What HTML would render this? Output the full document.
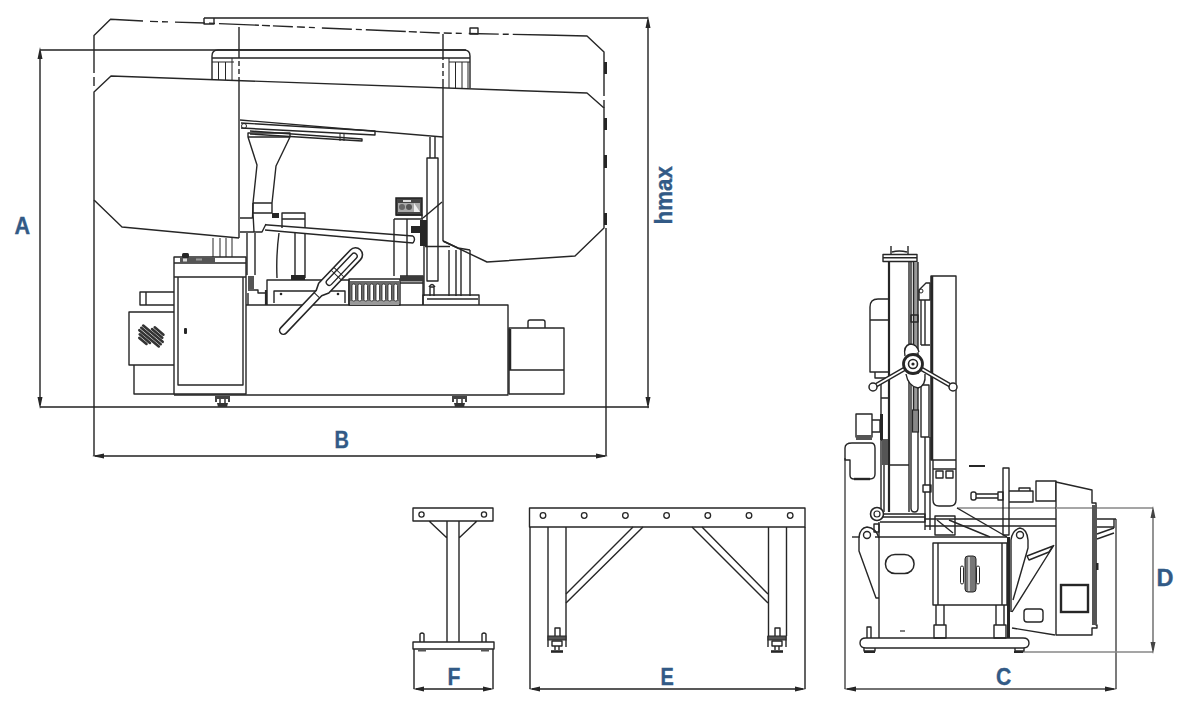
<!DOCTYPE html>
<html><head><meta charset="utf-8">
<style>
html,body{margin:0;padding:0;background:#fff;width:1200px;height:707px;overflow:hidden}
svg{display:block}
.l{fill:none;stroke:#262626;stroke-width:1.4;stroke-linejoin:round}
.t{fill:none;stroke:#262626;stroke-width:1}
.d{fill:none;stroke:#222;stroke-width:1.4}
.k{fill:#262626;stroke:none}
.g{fill:#555;stroke:none}
.lab{font-family:"Liberation Sans",sans-serif;font-weight:bold;fill:#325a86;stroke:#325a86;stroke-width:0.35}
</style></head><body>
<svg width="1200" height="707" viewBox="0 0 1200 707">
<g id="dims">
  <!-- A -->
  <path class="d" d="M40,52V405 M40,50H466 M40,407H649"/>
  <path class="k" d="M40,47 l-2.5,12 h5z M40,409 l-2.5,-12 h5z"/>
  <!-- hmax -->
  <path class="d" d="M648,20V405 M204,18H648"/>
  <path class="k" d="M648,16 l-2.5,12 h5z M648,409 l-2.5,-12 h5z"/>
  <!-- B -->
  <path class="d" d="M94,200V456 M606,228V456 M95,456H605"/>
  <path class="k" d="M92,456 l12,-2.5 v5z M608,456 l-12,-2.5 v5z"/>
</g>
<g id="labels" style="font-size:23.5px">
  <text class="lab" transform="translate(14.5,234) scale(0.92,1)">A</text>
  <text class="lab" transform="translate(334.5,447.5) scale(0.85,1)">B</text>
  <text class="lab" transform="translate(672,224.5) rotate(-90) scale(0.95,1.05)">hmax</text>
  <text class="lab" transform="translate(447.5,685) scale(0.9,1)">F</text>
  <text class="lab" transform="translate(660.5,685) scale(0.85,1)">E</text>
  <text class="lab" transform="translate(996,684.5) scale(0.9,1)">C</text>
  <text class="lab" transform="translate(1156.5,585.5) scale(1,1)">D</text>
</g>
<g id="front">
  <!-- upper guard dashed -->
  <path class="l" d="M94,73V35.5L110.5,19.3L143,21 M94,77V86"/>
  <path class="l" d="M150,21.4L205,23L300,27L440,33L545,35" stroke-dasharray="8 4 6 7 30 4 6 4 40 3 8 3 20 4"/>
  <path class="l" d="M545,35L587,36L604,52V96 M604,100V108"/>
  <path class="l" d="M204,18V24H214V18 M470,28H478V34H470Z"/>
  <g class="k"><rect x="604" y="62" width="3" height="12"/><rect x="604" y="118" width="3" height="12"/><rect x="604" y="155" width="3" height="13"/><rect x="604" y="213" width="3" height="12"/></g>
  <!-- lower guard -->
  <path class="l" d="M94,200V92L111,76L587,93L604,108V228L575,256L487,262L443,241 M94,200L122,227L239,238"/>
  <path class="l" d="M239,27V58 M239,61V66 M239,69V74 M239,77V238 M443,34V60 M443,63V68 M443,71V76 M443,79V241"/>
  <!-- columns -->
  <path class="l" d="M212,80V56Q212,50 218,50H464Q470,50 470,56V88 M212,58H470"/>
  <path class="t" d="M212,62H234 M218.5,62V80 M225.5,62V80 M232,58V80 M449,62H470 M449,58V88 M455.5,62V88 M462,62V88 M468,62V88"/>
  <!-- inner guard bottom -->
  <path class="l" d="M240,120L443,137"/>
  <!-- rail bar under top -->
  <path class="l" d="M241,123L375,131V135L241,128 M250,131L362,139V141L250,134"/>
  <circle class="t" cx="244" cy="126" r="2.5"/>
  <path class="t" d="M340,133V141 M344,133V141"/>
  <!-- funnel blade guide -->
  <path class="l" d="M248,133H290V137H248Z M248,137L257,165L253,203H272L276,166L290,137 M253,203V213H272V203"/>
  <path class="l" d="M240,218H252.5 M253,203L252.5,218 M253,213L254,232"/>
  <rect class="k" x="272" y="213" width="7" height="5"/>
  <!-- vise post -->
  <path class="l" d="M282,228V213H305V228 M282,219H305 M295,232V278 M305,233V278"/>
  <rect class="k" x="291" y="275" width="14" height="5"/>
  <path class="l" d="M279,233Q276,255 277,278"/>
  <!-- long blade bar -->
  <path class="l" d="M265,224.8L413,236 M265,230L413,243 M413,236Q416,239 413,243"/>
  <path class="l" d="M240,232H262L266,224"/>
  <!-- column under arm -->
  <path class="l" d="M247,233V275 M255,233V275"/><rect class="g" x="248" y="276" width="6" height="13"/><path class="l" d="M248,290H258V293H266 M248,305V293"/>
  <!-- columns under guard left -->
  <path class="t" d="M213,238V257 M220,238V257 M226,238V257 M232,238V257"/>
  <!-- gearbox -->
  <rect x="396" y="198" width="26" height="17" fill="#444" stroke="#222" stroke-width="1.5"/>
  <rect x="398" y="203" width="22" height="9" fill="#aaa"/>
  <circle cx="402" cy="207" r="3" fill="#666"/><circle cx="409" cy="207" r="3" fill="#555"/>
  <path d="M414,203L420,212H414Z" fill="#eee"/>
  <rect x="403" y="200" width="8" height="2" fill="#ddd"/>
  <path class="l" d="M396,215H422V219 M394,219H423 M394,219V276 M407,219V276"/>
  <path class="l" d="M423,218L442,202"/>
  <path class="k" d="M420,220H427V246H420Z M411,226H420V233H411Z"/><path class="l" d="M424,246V296 M425,246.5H450"/>
  <!-- cylinder -->
  <path class="l" d="M430,137V158 M435,137V158 M427,158H438V281H427Z"/>
  <path class="l" d="M430,296V287H434V296 M429,287Q432,282 435,287"/>
  <path class="l" d="M449,250V296 M456,250V296 M461,250V296 M470,250V296"/>
  <path class="l" d="M443,241L458,248L470,250"/>
  <!-- control cabinet -->
  <path class="l" d="M174,394V257H246V394Z M174,263H246 M174,277H246 M178,277V385H243V277"/>
  <rect class="g" x="180" y="257.5" width="35" height="5.5"/><rect x="183" y="258.5" width="4" height="3" fill="#ddd"/><rect x="196" y="258.5" width="6" height="2" fill="#999"/>
  <rect class="k" x="182" y="253" width="7" height="5" rx="1.5"/>
  <rect class="k" x="184" y="328" width="3" height="6" rx="1"/>
  <!-- left bar & electrical box -->
  <path class="l" d="M174,292H140V305H174 M146,292V305"/>
  <path class="l" d="M174,312H129V365H174 M134,365V394H174"/>
  <g transform="translate(151,336) rotate(40)" fill="#333"><rect x="-4.0" y="-10.3" width="14" height="2.6" rx="1.3"/><rect x="-5.0" y="-7.3" width="16" height="2.6" rx="1.3"/><rect x="-14.0" y="-4.3" width="28" height="2.6" rx="1.3"/><rect x="-14.0" y="-1.3" width="28" height="2.6" rx="1.3"/><rect x="-14.0" y="1.7" width="28" height="2.6" rx="1.3"/><rect x="-11.0" y="4.7" width="16" height="2.6" rx="1.3"/><rect x="-9.0" y="7.7" width="12" height="2.6" rx="1.3"/></g>
  <!-- base -->
  <path class="l" d="M246,305H508V395H174"/>
  <path fill="#444" d="M215,396H230V402H228V399H217V402H215Z"/><path class="l" d="M220,399V403 M225,399V403"/><path fill="#333" d="M217,403H228L227,407H218Z"/>
  <path fill="#444" d="M452,396H467V402H465V399H454V402H452Z"/><path class="l" d="M457,399V403 M462,399V403"/><path fill="#333" d="M454,403H465L464,407H455Z"/>
  <!-- vise base -->
  <path class="l" d="M267,305V280H349V305 M274,303V291H345V303"/><path stroke="#262626" stroke-width="2.2" d="M266,290V305"/>
  <circle class="k" cx="281" cy="294" r="1.3"/><circle class="k" cx="338" cy="294" r="1.3"/>
  <!-- grating -->
  <rect class="l" x="349" y="279" width="51" height="26"/>
  <rect x="350" y="281" width="49" height="20" fill="#6a6a6a"/><rect x="350" y="301" width="49" height="4" fill="#999"/>
  <g fill="#fff" stroke="#262626" stroke-width="0.8">
    <rect x="352" y="284" width="3.5" height="17" rx="1.5"/><rect x="358" y="284" width="3.5" height="17" rx="1.5"/>
    <rect x="364" y="284" width="3.5" height="17" rx="1.5"/><rect x="370" y="284" width="3.5" height="17" rx="1.5"/>
    <rect x="376" y="284" width="3.5" height="17" rx="1.5"/><rect x="382" y="284" width="3.5" height="17" rx="1.5"/>
    <rect x="388" y="284" width="3.5" height="17" rx="1.5"/><rect x="394" y="284" width="3.5" height="17" rx="1.5"/>
  </g>
  <path class="l" d="M400,276H423V305 M400,283H423"/>
  <rect x="400" y="276" width="23" height="5.5" fill="#3a3a3a"/>
  <path class="l" d="M423,305V295H479V305 M427,299H478"/>
  <!-- right box -->
  <path class="l" d="M509,394V328H564V394H509 M509,370H564 M528,328V322Q528,320 530,320H543Q545,320 545,322V328"/>
  <path stroke="#262626" stroke-width="2.5" d="M510,329V370"/>
  <!-- handle -->
  <g transform="translate(281,333) rotate(-46.4)">
    <path class="l" d="M3.5,-3.8H55L62,-7H108A7,7 0 0 1 108,7H62L55,3.8H3.5A3.8,3.8 0 0 1 3.5,-3.8Z" style="fill:#fff;stroke-width:1.6"/>
    <path class="l" d="M70,-3H106A3,3 0 0 1 106,3H70A3,3 0 0 1 70,-3Z"/>
    <path class="t" d="M80,-7V7 M84,-7V7 M52,-3.8V3.8"/>
  </g>
</g>

<g id="side">
  <!-- dims C, D -->
  <path class="d" style="stroke:#444" d="M845,458V689 M1116,519V689 M847,689H1114"/>
  <path class="k" d="M844,689 l12,-2.5 v5z M1117,689 l-12,-2.5 v5z"/>
  <path stroke="#888" stroke-width="1.3" fill="none" d="M957,508H1153 M1023,652H1153"/>
  <path class="d" style="stroke:#666" d="M1153,510V650"/>
  <path fill="#444" d="M1153,506 l-2.5,12 h5z M1153,654 l-2.5,-12 h5z"/>
  <!-- top cap and column -->
  <path class="l" d="M883,254.5H917V261.5H883Z M883,257.7H917 M891,246V254 M908,246V254 M892,252Q899,250 907,252"/>
  <path class="l" d="M889,262V512 M909,262V512 M889,465H909"/>
  <path stroke="#262626" stroke-width="2.2" d="M889,262V512"/>
  <!-- rod -->
  <rect x="913.5" y="262" width="4.5" height="170" fill="#999"/><path class="l" d="M911,262V508Q911,512 914.5,512Q918,512 918,508V262 M913.5,262V430"/>
  <rect class="l" x="911" y="315" width="7" height="7"/>
  <!-- wheel housing -->
  <path class="l" d="M931,276H956V460H931Z M933,460V500Q933,506 939,506H950Q956,506 956,500V460 M933,469H956 M936,471H943V478H936Z M946,471H953V478H946Z"/>
  <path stroke="#262626" stroke-width="2.5" d="M932,276V460"/>
  <path class="l" d="M919,290L926,283H930V300H919Z"/>
  <circle class="t" cx="921" cy="291" r="2"/>
  <path class="l" d="M921,300V345 M925,300V345 M921,345H930 M921,385H929V437H921Z M925,437V485 M930,437V530 M923,485H931V492H923Z M925,492V530"/>
  <rect x="912.5" y="410" width="6" height="22" fill="#888" stroke="#262626" stroke-width="1.2"/>
  <!-- motor -->
  <path class="l" d="M889,299H878Q870,299 870,307V372H889 M870,320H889 M875,372V378H889"/>
  <!-- handwheel -->
  <path d="M905,356Q903,346 910,344Q917,344 919,352 M906,374Q908,386 918,388Q926,386 925,374" fill="#fff" stroke="#262626" stroke-width="1.4"/>
  <path d="M913,364L873,387 M913,364L953,387" stroke="#262626" stroke-width="4.6" fill="none"/>
  <path d="M913,364L873,387 M913,364L953,387" stroke="#fff" stroke-width="1.8" fill="none"/>
  <circle cx="873" cy="387" r="4" fill="#fff" stroke="#262626" stroke-width="1.5"/>
  <circle cx="953" cy="387" r="4" fill="#fff" stroke="#262626" stroke-width="1.5"/>
  <circle cx="913" cy="364" r="9.5" fill="#fff" stroke="#262626" stroke-width="2.8"/>
  <circle cx="913" cy="364" r="4.5" fill="none" stroke="#262626" stroke-width="1.6"/>
  <circle cx="913" cy="364" r="1.6" fill="#262626"/>
  <!-- side post pieces -->
  <path class="l" d="M881,384V512 M884,440V512 M881,398H889 M881,440H889"/>
  <rect class="g" x="882" y="440" width="6" height="25"/>
  <!-- gear motor -->
  <path class="l" d="M856,414H872V437H856Z M872,420H880V432H872"/>
  <rect class="g" x="856" y="435" width="16" height="5"/>
  <rect class="k" x="880" y="414" width="3" height="26"/>
  <path class="l" d="M852,443H871Q875,443 875,448V474Q875,479 870,479H854Q850,479 850,475V460H845V448Q845,443 852,443Z"/>
  <path stroke="#262626" stroke-width="2.4" d="M854,479H870"/>
  <!-- pulley and bar -->
  <circle cx="877" cy="514" r="6.5" fill="#fff" stroke="#262626" stroke-width="1.6"/>
  <circle cx="877" cy="514" r="3" fill="none" stroke="#262626" stroke-width="1.2"/>
  <path class="l" d="M883,514H925V522H880 M883,517H925"/>
  <!-- vise post & spindle -->
  <path class="l" d="M1003,468H1009V535H1003Z"/>
  <path class="l" d="M976,494H998V498H976 M998,492H1003V500H998Z M1009,491H1033V502H1009 M1019,491V488H1030V491"/>
  <rect x="971" y="492" width="5" height="8" rx="2" fill="#fff" stroke="#262626" stroke-width="1.4"/>
  <path stroke="#262626" stroke-width="2" d="M969,466H985"/>
  <path class="l" d="M1036,481H1056V501H1036Z"/>
  <!-- rails -->
  <path class="l" d="M925,519H1097 M925,526H1097 M1097,519H1116 M1097,527H1114"/>
  <path class="l" d="M957,508L1007,537 M949,520L990,537"/>
  <path class="l" d="M935,516H955V535H935Z M937,520L953,533"/>
  <!-- body -->
  <path class="l" d="M875,537H1007 M879,522V638 M933,543H1007V605H933Z M938,543V605 M1002,543V605"/>
  <path stroke="#262626" stroke-width="3" d="M1008.5,537V638"/>
  <rect x="885.5" y="554.5" width="28.5" height="19" rx="9.5" ry="9" fill="none" stroke="#262626" stroke-width="1.5"/>
  <g fill="#fff" stroke="#262626" stroke-width="1">
    <rect x="960.5" y="566" width="3" height="18" rx="1.5"/>
    <rect x="976.5" y="566" width="3" height="18" rx="1.5"/>
  </g>
  <rect x="965" y="556" width="11" height="36" rx="3" fill="#777" stroke="#262626" stroke-width="1"/>
  <path stroke="#fff" stroke-width="1.2" d="M969,557V591"/>
  <!-- legs -->
  <path class="l" d="M936,605V625 M944,605V625 M934,625H946V638H934Z M996,605V625 M1004,605V625 M994,625H1006V638H994Z"/>
  <path stroke="#555" stroke-width="1.5" d="M900,631H905"/>
  <!-- left bracket -->
  <path class="l" d="M879,538Q876,528 867,527Q860,528 859,537V551L876,598H879"/>
  <path class="l" d="M874,524H879V532H874Z"/>
  <circle cx="867" cy="535" r="3.5" fill="#fff" stroke="#262626" stroke-width="1.4"/>
  <path stroke="#262626" stroke-width="1.4" d="M852,537H860"/>
  <!-- base plate -->
  <path class="l" d="M866,638H1023Q1029,638 1029,643Q1029,648 1023,648H866Q860,648 860,643Q860,638 866,638Z"/>
  <path class="l" d="M867,638V627H871V638 M864,648V651H875V648 M1015,648V651H1024V648"/>
  <path stroke="#262626" stroke-width="2" d="M864,652H875 M1014,652H1023"/>
  <!-- right bracket -->
  <path class="l" d="M1011,612V540Q1012,530 1020,528Q1027,529 1028,540V548L1013,600 M1054,545L1012,612"/>
  <circle cx="1020" cy="535" r="3.5" fill="#fff" stroke="#262626" stroke-width="1.4"/>
  <path class="l" d="M1027,556L1053,546L1049,552L1029,560Z"/>
  <path class="l" d="M1012,628L1055,635"/>
  <!-- pendant -->
  <path class="l" style="fill:#fff" d="M1056,482L1092,490V503H1096V625H1097V628H1092V635H1056Z"/>
  <rect x="1061" y="585" width="27" height="27" fill="none" stroke="#262626" stroke-width="2.4"/>
  <rect x="1024" y="609" width="19" height="13" rx="3" fill="none" stroke="#262626" stroke-width="1.4"/>
  <rect class="g" x="1092" y="505" width="5" height="120"/>
  <rect class="k" x="1096" y="563" width="2.5" height="7"/>
  <path class="l" d="M1097,534L1114,528 M1097,539L1114,533 M1114,519V528"/>
  <path stroke="#888" stroke-width="1.3" d="M1056,508H1092"/>
</g>

<g id="stands">
  <!-- F -->
  <path class="l" d="M413,508H493V521H413Z M447,521V642 M459,521V642 M429,521L447,538 M477,521L459,538"/>
  <g fill="none" stroke="#262626" stroke-width="1.3"><circle cx="421.5" cy="514.5" r="2.6"/><circle cx="484" cy="514.5" r="2.6"/></g>
  <path class="l" d="M413,642H494V649H413Z M420,642V634Q422,632 424,634V642 M482,642V634Q484,632 486,634V642"/>
  <path stroke="#555" stroke-width="2" d="M418,650.5H426 M481,650.5H489"/>
  <path class="d" d="M414,649V689 M493,649V689 M416,689H491"/>
  <path class="k" d="M413,689 l11,-2.5 v5z M494,689 l-11,-2.5 v5z"/>
  <!-- E -->
  <path class="l" d="M529.5,508H805V527H529.5Z M548,527V636 M566,527V636 M768.5,527V636 M786.5,527V636"/>
  <g fill="none" stroke="#262626" stroke-width="1.3"><circle cx="543.0" cy="515.5" r="2.8"/><circle cx="584.2" cy="515.5" r="2.8"/><circle cx="625.4" cy="515.5" r="2.8"/><circle cx="666.6" cy="515.5" r="2.8"/><circle cx="707.8" cy="515.5" r="2.8"/><circle cx="749.0" cy="515.5" r="2.8"/><circle cx="790.2" cy="515.5" r="2.8"/></g>
  <path class="l" d="M633,527L566,594 M643,527L566,603 M702,527L768,594 M692,527L768,603"/>
  <path class="d" d="M530,527V689 M805,527V689 M532,689H803"/>
  <path class="k" d="M529,689 l11,-2.5 v5z M806,689 l-11,-2.5 v5z"/>
  <g id="lev">
    <path class="l" d="M548,636V647 M566,636V647 M555,636V628H560V636"/>
    <rect x="548" y="636" width="18" height="4" fill="#555" stroke="#262626" stroke-width="1"/>
    <path class="l" d="M552,641H562V646H552Z M555,646V650 M559,646V650"/>
    <path stroke="#262626" stroke-width="2.6" d="M551,651.5H563"/>
  </g>
  <use href="#lev" transform="translate(220,0)"/>
</g>
</svg>
</body></html>
